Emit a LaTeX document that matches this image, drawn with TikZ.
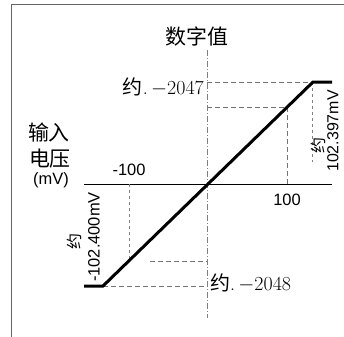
\documentclass[tikz,border=0pt]{standalone}
\usepackage{fontspec}
\setsansfont{Liberation Sans}
\newfontfamily\cjk{Noto Sans CJK SC}
\begin{document}
\begin{tikzpicture}[x=1bp,y=-1bp,
  frame/.style={draw=gray!80!black,line width=1bp},
  haxis/.style={black,line width=0.9bp},
  vaxis/.style={gray,line width=0.7bp,dash pattern=on 6bp off 2bp on 1bp off 2bp},
  guide/.style={gray!90!black,line width=0.9bp,dash pattern=on 5bp off 3bp},
  thin guide/.style={gray,line width=0.7bp,dash pattern=on 3bp off 3bp},
  curve/.style={black,line width=3bp},
  cn/.style={inner sep=0pt,font=\cjk\fontsize{21}{21}\selectfont},
  cnsmall/.style={inner sep=0pt,font=\cjk\fontsize{16}{16}\selectfont},
  rm/.style={inner sep=0pt,font=\fontsize{20}{20}\selectfont},
  sf/.style={inner sep=0pt,font=\sffamily\fontsize{16.5}{16.5}\selectfont}]
\useasboundingbox (0,0) rectangle (344,337);
% frame
\coordinate (fTL) at (11,4);
\coordinate (fTR) at (344,4);
\coordinate (fBL) at (11,337);
\draw[frame] (fTR) -- (fTL) -- (fBL);
% axes
\coordinate (O) at (207,184);
\coordinate (ax0) at (84,184);
\coordinate (ax1) at (332,184);
\coordinate (v0) at (207,50);
\coordinate (v1) at (207,318);
\draw[haxis] (ax0) -- (ax1);
\draw[vaxis] (v0) -- (v1);
% transfer curve
\coordinate (P0) at (84,286);
\coordinate (P1) at (103,286);
\coordinate (P2) at (313,82);
\coordinate (P3) at (332,82);
% guides
\coordinate (gTop) at (207,82);
\coordinate (gTopV) at (312,82);
\coordinate (gTopV2) at (312,162);
\coordinate (g100a) at (207,107);
\coordinate (g100b) at (287,107);
\coordinate (g100c) at (287,184);
\coordinate (gm100a) at (129,184);
\coordinate (gm100b) at (129,261);
\coordinate (gLa) at (150,261);
\coordinate (gLb) at (207,261);
\coordinate (gBot) at (207,286);
\draw[guide] (gTop) -- (P2);
\draw[thin guide] (gTopV) -- (gTopV2);
\draw[guide] (g100a) -- (g100b) -- (g100c);
\draw[thin guide] (gm100a) -- (gm100b);
\draw[guide] (gLa) -- (gLb);
\draw[guide] (P1) -- (gBot);
\draw[curve] (P0) -- (P1) -- (P2) -- (P3);
% labels
\node[cn] (title) at (197,37) {数字值};
\node[rm,anchor=east] (l2047) at (204,87) {{\cjk 约}.\,$-$2047};
\node[rm,anchor=west] (l2048) at (210,283) {{\cjk 约}.\,$-$2048};
\node[cn] (in1) at (49,133) {输入};
\node[cn] (in2) at (50,159) {电压};
\node[sf] (mv) at (51,180) {(mV)};
\node[sf] (m100) at (129,170) {-100};
\node[sf] (p100) at (287,200) {100};
\node[sf,rotate=90] (lneg) at (94,237) {-102.400mV};
\node[cnsmall,rotate=90] (lnegc) at (74,242) {约};
\node[sf,rotate=90,anchor=north,font=\sffamily\fontsize{16}{16}\selectfont] (lpos) at (327,131) {102.397mV};
\node[cnsmall,rotate=90] (lposc) at (318,146) {约};
\end{tikzpicture}
\end{document}
